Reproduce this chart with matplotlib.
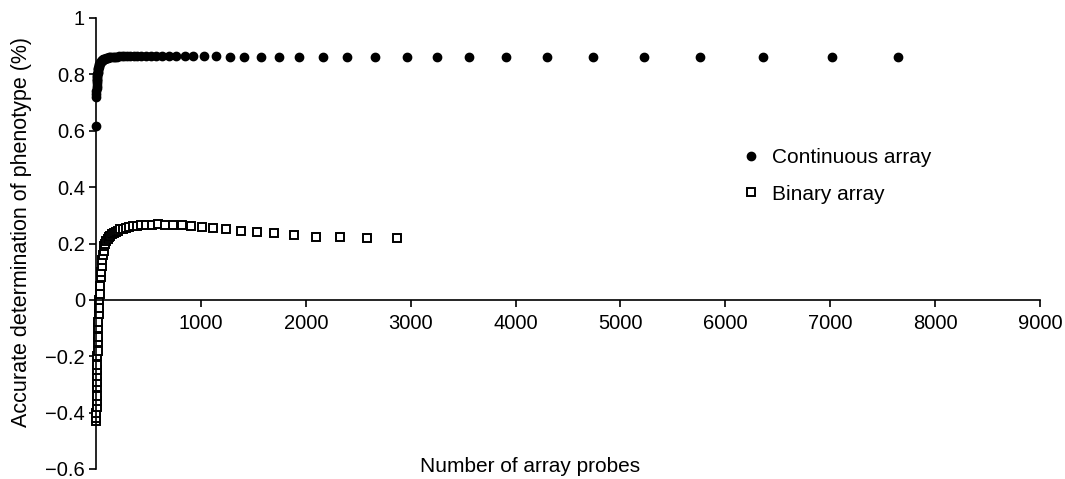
import matplotlib.pyplot as plt

# Continuous array: number of probes vs accuracy
cont_x = [1, 2, 3, 4, 5, 6, 7, 8, 9, 10, 11, 12, 14, 15, 17, 18, 20, 22, 25, 27,
          30, 33, 36, 40, 44, 48, 53, 58, 64, 71, 78, 86, 94, 104, 114, 125, 138,
          152, 167, 183, 202, 222, 244, 269, 296, 325, 358, 393, 433, 476, 524,
          576, 634, 697, 767, 844, 928, 1032, 1144, 1275, 1414, 1573, 1747, 1938,
          2161, 2390, 2657, 2962, 3251, 3556, 3908, 4296, 4735, 5221, 5758, 6356,
          7019, 7645]
cont_y = [0.617, 0.72, 0.73, 0.74, 0.75, 0.76, 0.77, 0.775, 0.78, 0.785, 0.79,
          0.795, 0.80, 0.805, 0.81, 0.815, 0.82, 0.823, 0.827, 0.83, 0.833, 0.836,
          0.839, 0.842, 0.844, 0.846, 0.848, 0.85, 0.852, 0.853, 0.855, 0.856,
          0.857, 0.858, 0.859, 0.86, 0.861, 0.862, 0.862, 0.863, 0.863, 0.864,
          0.864, 0.864, 0.865, 0.865, 0.865, 0.865, 0.865, 0.865, 0.865, 0.865,
          0.865, 0.865, 0.865, 0.865, 0.864, 0.864, 0.864, 0.863, 0.863, 0.863,
          0.862, 0.862, 0.862, 0.861, 0.861, 0.861, 0.861, 0.86, 0.86, 0.86,
          0.86, 0.86, 0.86, 0.86, 0.86, 0.86]

# Binary array
bin_x = [2, 3, 4, 5, 6, 7, 8, 9, 10, 11, 12, 14, 15, 17, 19, 21, 23, 26, 29, 32,
         35, 39, 43, 48, 53, 59, 66, 73, 81, 90, 100, 111, 123, 137, 152, 169,
         187, 208, 231, 257, 285, 316, 351, 390, 433, 481, 534, 593, 658, 734,
         820, 906, 1010, 1115, 1239, 1382, 1535, 1697, 1888, 2097, 2326, 2583,
         2869]
bin_y = [-0.43, -0.42, -0.40, -0.38, -0.36, -0.34, -0.31, -0.29, -0.27, -0.25,
         -0.23, -0.20, -0.18, -0.15, -0.13, -0.10, -0.08, -0.05, -0.03, 0.0,
         0.02, 0.05, 0.08, 0.10, 0.12, 0.14, 0.16, 0.175, 0.19, 0.20, 0.21,
         0.215, 0.222, 0.228, 0.233, 0.238, 0.242, 0.246, 0.25, 0.253, 0.256,
         0.259, 0.261, 0.263, 0.265, 0.266, 0.267, 0.268, 0.267, 0.266, 0.265,
         0.262, 0.259, 0.255, 0.251, 0.245, 0.24, 0.236, 0.23, 0.224, 0.222,
         0.22, 0.22]

x_ticks = [1000, 2000, 3000, 4000, 5000, 6000, 7000, 8000, 9000]
y_ticks = [-0.6, -0.4, -0.2, 0, 0.2, 0.4, 0.6, 0.8, 1]
y_tick_labels = ['\u22120.6', '\u22120.4', '\u22120.2', '0', '0.2', '0.4',
                 '0.6', '0.8', '1']

plt.rcParams['font.family'] = ['Liberation Sans', 'DejaVu Sans']

fig = plt.figure(figsize=(10.65, 4.79), dpi=100)
ax = fig.add_axes([96 / 1065, 10 / 479, 944 / 1065, 451 / 479])

ax.plot(cont_x, cont_y, 'o', color='black', markersize=6, label='Continuous array',
        clip_on=False)
ax.plot(bin_x, bin_y, 's', markerfacecolor='white', markeredgecolor='black',
        markeredgewidth=1.4, markersize=5.5, label='Binary array', clip_on=False)

ax.set_xlim(0, 9000)
ax.set_ylim(-0.6, 1)
ax.spines['top'].set_visible(False)
ax.spines['right'].set_visible(False)
ax.spines['bottom'].set_position(('data', 0))
ax.spines['left'].set_linewidth(1.2)
ax.spines['bottom'].set_linewidth(1.2)

ax.set_xticks(x_ticks)
ax.set_yticks(y_ticks)
ax.set_yticklabels(y_tick_labels)
ax.tick_params(axis='both', direction='out', length=5, width=1.2, labelsize=14.5)
ax.tick_params(axis='x', pad=5)
ax.tick_params(axis='y', pad=3)

fig.text(22 / 1065, 1 - 232 / 479, 'Accurate determination of phenotype (%)',
         fontsize=15.5, rotation=90, ha='center', va='center')
fig.text(530 / 1065, 1 - 466 / 479, 'Number of array probes', fontsize=15,
         ha='center', va='center')

ax.legend(loc='upper left', bbox_to_anchor=(741 / 1065, 1 - 148 / 479),
          bbox_transform=fig.transFigure, frameon=False, fontsize=15,
          borderpad=0, borderaxespad=0, handletextpad=0.5, labelspacing=0.84,
          handlelength=1.0)

plt.savefig('out.png', dpi=100)
